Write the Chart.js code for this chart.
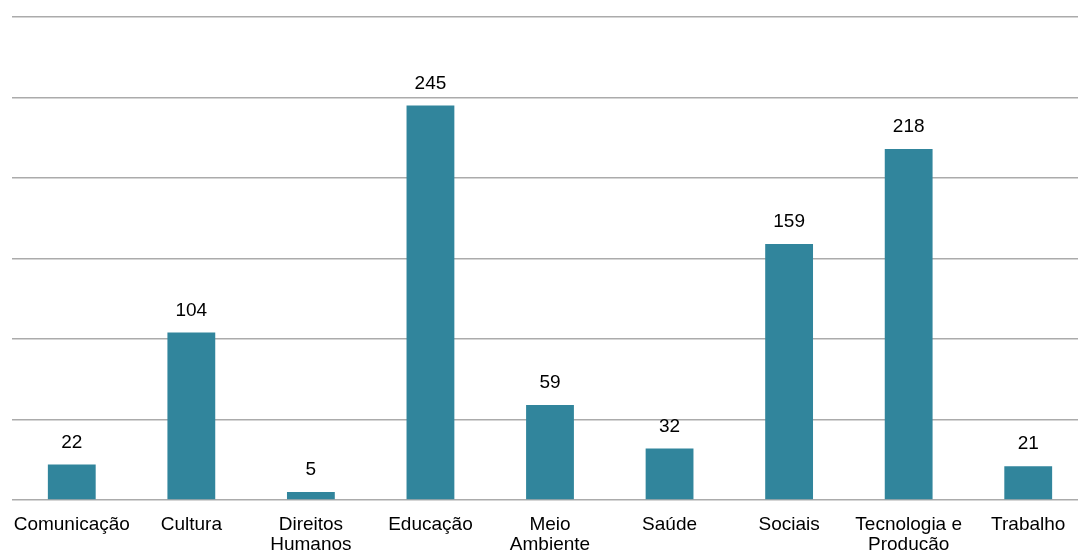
<!DOCTYPE html>
<html>
<head>
<meta charset="utf-8">
<script src="https://cdn.jsdelivr.net/npm/chart.js@4/dist/chart.umd.min.js"></script>
<style>
  html, body { margin: 0; padding: 0; background: #fff; overflow: hidden; }
  #wrap { width: 1090px; height: 551px; }
</style>
</head>
<body>
<div id="wrap"><canvas id="myChart"></canvas></div>
<script>
var categories = ['Comunicação', 'Cultura', ['Direitos', 'Humanos'], 'Educação', ['Meio', 'Ambiente'], 'Saúde', 'Sociais', ['Tecnologia e', 'Producão'], 'Trabalho'];
var counts = [22, 104, 5, 245, 59, 32, 159, 218, 21];
var yTicks = [0, 50, 100, 150, 200, 250, 300];

var fontFamily = '"Liberation Sans", Arial, sans-serif';

// draws the value over each bar
var valueLabels = {
    id: 'valueLabels',
    afterDatasetsDraw: function (chart) {
        var ctx = chart.ctx;
        ctx.save();
        ctx.font = '19px ' + fontFamily;
        ctx.fillStyle = '#000';
        ctx.textAlign = 'center';
        ctx.textBaseline = 'middle';
        chart.getDatasetMeta(0).data.forEach(function (bar, i) {
            ctx.fillText(counts[i], bar.x, bar.y - 22);
        });
        ctx.restore();
    }
};

var ctx = document.getElementById('myChart').getContext('2d');

var chart = new Chart(ctx, {
    type: 'bar',
    data: {
        labels: categories,
        datasets: [{
            data: counts,
            backgroundColor: '#31859C',
            categoryPercentage: 1,
            barPercentage: 0.4
        }]
    },
    options: {
        responsive: true,
        maintainAspectRatio: false,
        animation: false,
        layout: { padding: { left: 12, right: 2, top: 17, bottom: 0 } },
        plugins: {
            legend: { display: false },
            tooltip: { enabled: false }
        },
        scales: {
            x: {
                afterFit: function (axis) { axis.height = 51; },
                grid: { display: false },
                border: { display: false },
                ticks: {
                    color: '#000',
                    padding: 7,
                    maxRotation: 0,
                    autoSkip: false,
                    font: { family: fontFamily, size: 19, lineHeight: 1.05 }
                }
            },
            y: {
                min: yTicks[0],
                max: yTicks[yTicks.length - 1],
                afterBuildTicks: function (axis) {
                    axis.ticks = yTicks.map(function (v) { return { value: v }; });
                },
                border: { display: false },
                grid: { color: '#ababab', lineWidth: 1.5, drawTicks: false },
                ticks: { display: false }
            }
        }
    },
    plugins: [valueLabels]
});
</script>
</body>
</html>
